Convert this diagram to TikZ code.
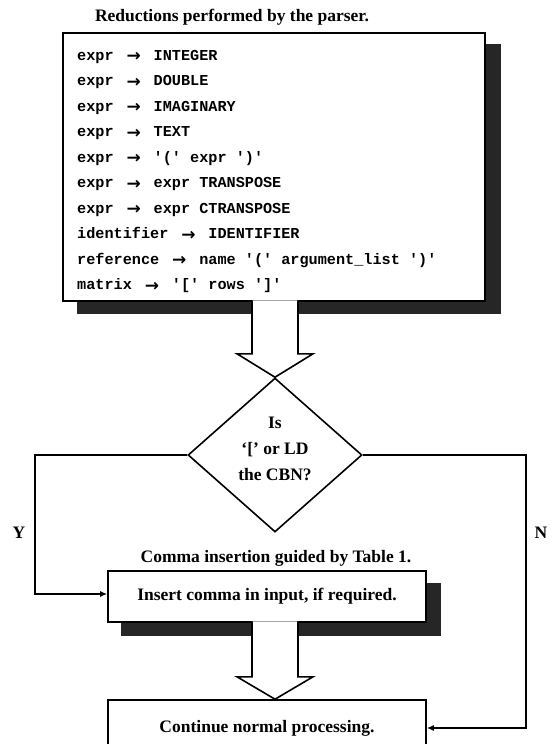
\documentclass[tikz,border=0pt]{standalone}
\usepackage{fontspec}
\setmainfont{Liberation Serif}
\setmonofont{Liberation Mono}
\newfontfamily\symfont{DejaVu Sans}
\usetikzlibrary{shapes.geometric,arrows.meta,calc,backgrounds}
\newcommand{\arr}{\makebox[40pt]{\raisebox{-1.6pt}{\symfont\bfseries\fontsize{17}{20}\selectfont →}}}
\begin{document}
\begin{tikzpicture}[x=1pt,y=-1pt,
  bx/.style={draw, line width=1.6pt, fill=white, inner sep=0pt},
  shadowc/.style={fill=black!85},
  lbl/.style={font=\fontsize{17.5}{26}\selectfont\bfseries, inner sep=0pt},
  rowtxt/.style={font=\fontsize{15.2}{20}\selectfont\ttfamily\bfseries, inner sep=0pt, anchor=base west},
  hollow/.style={draw, fill=white, line width=1.6pt, line join=miter},
  conn/.style={draw, line width=1.6pt, -{Latex[length=7pt,width=6pt]}}
]
\useasboundingbox (0,0) rectangle (550,744);
\clip (0,0) rectangle (550,744);

% title
\node[lbl, anchor=base] (title) at (232,21) {Reductions performed by the parser.};

% rules box
\node[bx, minimum width=422pt, minimum height=268pt] (rules) at (274,167) {};
\node[rowtxt] (r1)  at (77,60)    {expr\arr INTEGER};
\node[rowtxt] (r2)  at (77,85.5)  {expr\arr DOUBLE};
\node[rowtxt] (r3)  at (77,111)   {expr\arr IMAGINARY};
\node[rowtxt] (r4)  at (77,136.5) {expr\arr TEXT};
\node[rowtxt] (r5)  at (77,162)   {expr\arr '(' expr ')'};
\node[rowtxt] (r6)  at (77,187.5) {expr\arr expr TRANSPOSE};
\node[rowtxt] (r7)  at (77,213)   {expr\arr expr CTRANSPOSE};
\node[rowtxt] (r8)  at (77,238.5) {identifier\arr IDENTIFIER};
\node[rowtxt] (r9)  at (77,264)   {reference\arr name '(' argument\_list ')'};
\node[rowtxt] (r10) at (77,289.5) {matrix\arr '[' rows ']'};

% decision
\node[draw, diamond, line width=1.6pt, minimum width=174pt, minimum height=154pt, inner sep=0pt] (dia) at (275,455) {};
\node[lbl, align=center] (dtext) at (275,449) {Is\\`[' or LD\\the CBN?};

% labels
\node[lbl] (ylab) at (19,533) {Y};
\node[lbl] (nlab) at (541,533) {N};
\node[lbl, anchor=base] (ctitle) at (276,562) {Comma insertion guided by Table 1.};

% second box
\node[bx, minimum width=318pt, minimum height=51pt, font=\fontsize{17.5}{20}\selectfont\bfseries] (box2) at (267,596.5) {Insert comma in input, if required.};

% third box
\node[bx, minimum width=318pt, minimum height=56pt, font=\fontsize{17.5}{20}\selectfont\bfseries] (box3) at (267,728) {Continue normal processing.};

% shadows
\begin{scope}[on background layer]
  \fill[shadowc] ([shift={(15pt,-12pt)}]rules.north west) rectangle ([shift={(15pt,-12pt)}]rules.south east);
  \fill[shadowc] ([shift={(14pt,-13pt)}]box2.north west) rectangle ([shift={(14pt,-13pt)}]box2.south east);
\end{scope}

% hollow arrows
\coordinate (a1) at (rules.south -| dia.north);
\path[hollow] ($(a1)+(-23,-1.5)$) -- ($(a1)+(-23,52)$) -- ($(a1)+(-38,52)$) -- (dia.north)
  -- ($(a1)+(38,52)$) -- ($(a1)+(23,52)$) -- ($(a1)+(23,-1.5)$);
\coordinate (a2) at (box2.south -| dia.north);
\path[hollow] ($(a2)+(-23,-1.5)$) -- ($(a2)+(-23,54)$) -- ($(a2)+(-38,54)$) -- (box3.north -| dia.north)
  -- ($(a2)+(38,54)$) -- ($(a2)+(23,54)$) -- ($(a2)+(23,-1.5)$);

% connectors
\coordinate (yc) at (35,594);
\coordinate (nc) at (526,728);
\draw[conn] (dia.west) -| (yc) -- (yc -| box2.west);
\draw[conn] (dia.east) -| (nc) -- (nc -| box3.east);
\end{tikzpicture}
\end{document}
